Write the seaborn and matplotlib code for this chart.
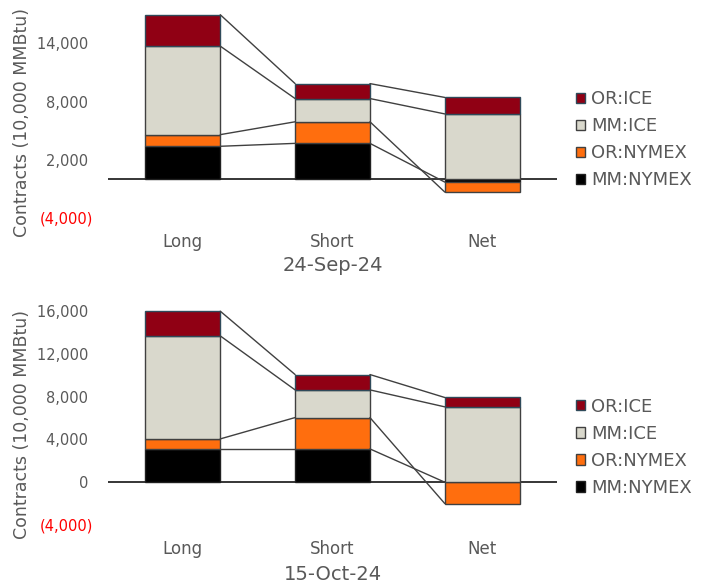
""" Stacked long / short / net positions for two report dates """

import matplotlib
matplotlib.use("Agg")
import matplotlib.pyplot as plt
import pandas as pd
import seaborn as sns
from matplotlib.patches import Patch


# Data (contracts, 10,000 MMBtu)
categories = ["Long", "Short", "Net"]
series = ["MM:NYMEX", "OR:NYMEX", "MM:ICE", "OR:ICE"]   # stacking order, bottom up

sep_long = [3390, 1200, 9120, 3240]
sep_short = [3690, 2225, 2395, 1540]

oct_long = [3110, 935, 9625, 2310]
oct_short = [3110, 2930, 2585, 1435]

dates = ["24-Sep-24", "15-Oct-24"]
sep_ticks = [-4000, 2000, 8000, 14000]
oct_ticks = [-4000, 0, 4000, 8000, 12000, 16000]

colors = {"MM:NYMEX": "#000000", "OR:NYMEX": "#FF6E0E",
          "MM:ICE": "#D9D8CC", "OR:ICE": "#900014"}
edges = {"MM:NYMEX": "#202020", "OR:NYMEX": "#404040",
         "MM:ICE": "#404040", "OR:ICE": "#2F4A5A"}

GREY = "#595959"


def build_table(long_vals, short_vals):
    """ long, short and net (= long - short) stacked, pos up / neg down """
    net_vals = [l - s for l, s in zip(long_vals, short_vals)]
    rows = []
    for cat, vals in zip(categories, [long_vals, short_vals, net_vals]):
        pos, neg = 0, 0
        for name, v in zip(series, vals):
            if v >= 0:
                bottom = pos
                pos += v
            else:
                bottom = neg
                neg += v
            rows.append(dict(category=cat, series=name, value=v,
                             bottom=bottom, edge=bottom + v))
    return pd.DataFrame(rows)


def fmt(v):
    # accounting style: positives keep a trailing space where ")" would be
    return f"({abs(v):,})" if v < 0 else f"{v:,} "


def draw_panel(ax, table, ticks, ylim, date, legend_y):
    ax.axhline(0, color="#000000", lw=1.1, zorder=1)

    for name in series:
        sub = table[table["series"] == name].set_index("category").loc[categories].reset_index()
        sns.barplot(data=sub, x="category", y="value", order=categories,
                    bottom=sub["bottom"].to_numpy(), color=colors[name],
                    edgecolor=edges[name], linewidth=1.0, width=0.5,
                    errorbar=None, ax=ax, zorder=2, saturation=1, clip_on=False)

    # connector lines between neighbouring bars
    for name in series:
        sub = table[table["series"] == name].set_index("category").loc[categories]
        for i in range(len(categories) - 1):
            ax.plot([i + 0.25, i + 0.75],
                    [sub["edge"].iloc[i], sub["edge"].iloc[i + 1]],
                    color="#404040", lw=1.0, zorder=3, clip_on=False)

    ax.set_xlim(-0.5, 2.5)
    ax.set_ylim(*ylim)
    ax.set_yticks(ticks)
    ax.set_yticklabels([fmt(t) for t in ticks])
    for lab, t in zip(ax.get_yticklabels(), ticks):
        lab.set_color("#FF0000" if t < 0 else GREY)
    ax.tick_params(axis="y", length=0, pad=10.8, labelsize=10.5)
    ax.tick_params(axis="x", length=0, pad=11, labelsize=12, labelcolor=GREY)

    for s in ax.spines.values():
        s.set_visible(False)

    ax.set_ylabel("Contracts (10,000 MMBtu)", fontsize=12.5, color=GREY)
    ax.yaxis.set_label_coords(-0.171, 0.47)
    ax.set_xlabel(date, fontsize=14, color=GREY)
    ax.xaxis.set_label_coords(0.5, -0.185)

    handles = [Patch(facecolor=colors[n], edgecolor=edges[n], lw=1.0, label=n)
               for n in reversed(series)]
    ax.legend(handles=handles, loc="center left", bbox_to_anchor=(1.042, legend_y),
              frameon=False, fontsize=13, labelcolor=GREY, handlelength=0.53,
              handleheight=0.53, handletextpad=0.3, labelspacing=0.5,
              borderaxespad=0, borderpad=0)


sns.set_style("white")
plt.rcParams["font.family"] = ["DejaVu Sans"]

fig = plt.figure(figsize=(7.05, 5.83), dpi=100)
ax_top = fig.add_axes([0.1532, 0.6261, 0.6369, 0.3495])
ax_bot = fig.add_axes([0.1532, 0.0995, 0.6369, 0.3671])

draw_panel(ax_top, build_table(sep_long, sep_short), sep_ticks, (-4000, 17000), dates[0], 0.383)
draw_panel(ax_bot, build_table(oct_long, oct_short), oct_ticks, (-4000, 16000), dates[1], 0.364)

fig.savefig("out.png", dpi=100)
